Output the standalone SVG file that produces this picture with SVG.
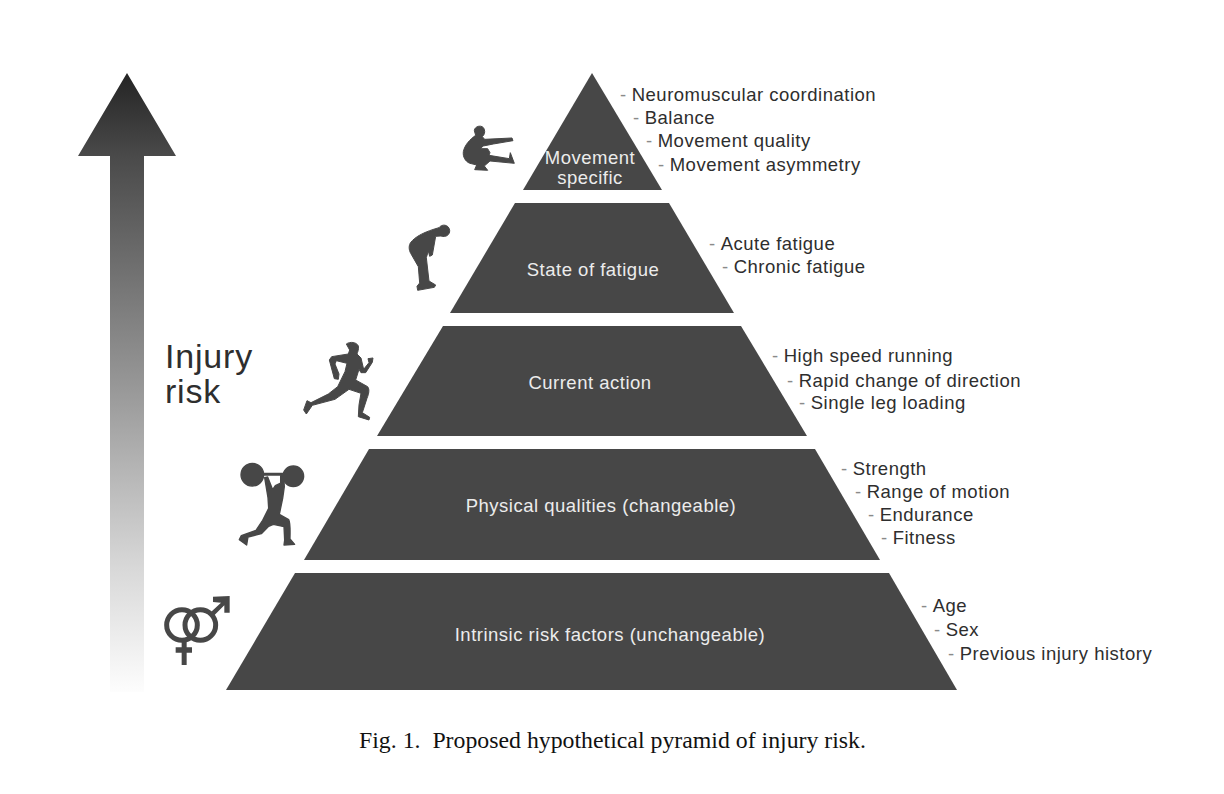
<svg xmlns="http://www.w3.org/2000/svg" width="1224" height="794" viewBox="0 0 1224 794">
<style>
text{font-family:"Liberation Sans",Arial,sans-serif}
.tier{fill:#474747}
.in{fill:#ececec;font-size:18.5px;letter-spacing:.5px;text-anchor:middle}
.side{fill:#2e2e2e;font-size:18.5px;letter-spacing:.5px;white-space:pre}
.d{fill:#8a8a8a;letter-spacing:.2px}
.fig{fill:#474747;stroke:#474747;stroke-width:3;stroke-linejoin:round;filter:url(#soft)}
.sym{filter:url(#soft)}
.inj{font-size:34px;letter-spacing:.8px;fill:#2e2e2e}
.cap{font-family:"Liberation Serif",serif;font-size:23.8px;fill:#111;white-space:pre}
</style>
<defs>
<linearGradient id="up" gradientUnits="userSpaceOnUse" x1="0" y1="73" x2="0" y2="692">
<stop offset="0" stop-color="#242424"/><stop offset=".135" stop-color="#4a4a4a"/><stop offset=".5" stop-color="#969696"/><stop offset=".8" stop-color="#d8d8d8"/><stop offset="1" stop-color="#fdfdfd"/>
</linearGradient>
<filter id="soft" x="-10%" y="-10%" width="120%" height="120%"><feGaussianBlur stdDeviation="1.2"/></filter>
</defs>
<rect width="1224" height="794" fill="#fff"/>
<g id="risk-arrow">
<path d="M127 73L176 156H144V692H110V156H78Z" fill="url(#up)"/>
<text class="inj" x="165" y="368">Injury</text>
<text class="inj" x="165" y="403">risk</text>
</g>
<g id="tier-movement">
<path class="tier" d="M592 73L662 190H523Z"/>
<text class="in" x="590" y="164">Movement</text><text class="in" x="590" y="184">specific</text>
<text class="side" x="620" y="101"><tspan class="d">- </tspan>Neuromuscular coordination</text>
<text class="side" x="633" y="124"><tspan class="d">- </tspan>Balance</text>
<text class="side" x="646" y="147"><tspan class="d">- </tspan>Movement quality</text>
<text class="side" x="658" y="171"><tspan class="d">- </tspan>Movement asymmetry</text>
<path class="fig" transform="translate(440 110) scale(.3333)" d="M103 62C103 48 128 42 133 58C136 68 132 76 127 80L134 88L216 84L219 92L160 102L130 108L120 116L143 116L150 128L147 136L208 146L211 128L223 160L150 153L133 168L143 181L104 179L110 165L90 160C76 155 68 140 70 125C74 105 90 88 107 76Z"/>
</g>
<g id="tier-fatigue">
<path class="tier" d="M515 203H669L734 313H450Z"/>
<text class="in" x="593" y="276">State of fatigue</text>
<text class="side" x="709" y="250"><tspan class="d">- </tspan>Acute fatigue</text>
<text class="side" x="722" y="273"><tspan class="d">- </tspan>Chronic fatigue</text>
<path class="fig" transform="translate(395 215) scale(.3333)" d="M132 38C140 26 162 28 164 46C165 60 152 68 138 63L122 64L112 120L104 124L100 108L94 128L102 198L122 210L118 217L68 226L66 214L74 204L70 155L50 120C42 108 40 95 46 84C60 64 90 50 132 38Z"/>
</g>
<g id="tier-action">
<path class="tier" d="M443 326H741L807 436H377Z"/>
<text class="in" x="590" y="389">Current action</text>
<text class="side" x="772" y="362"><tspan class="d">- </tspan>High speed running</text>
<text class="side" x="787" y="387"><tspan class="d">- </tspan>Rapid change of direction</text>
<text class="side" x="799" y="409"><tspan class="d">- </tspan>Single leg loading</text>
<path class="fig" transform="translate(295 330) scale(.3333)" d="M154 42C165 34 185 36 190 48C192 58 188 66 186 72L198 84L206 118L222 98L219 86L234 84L232 97L212 128L198 128L192 118L182 150L218 170C224 178 222 190 216 205L202 248L224 262L222 270L190 260L192 225L198 190L162 178L120 208L52 226L34 252L26 240L36 212L48 218L100 192L128 170L150 125L156 100L124 92L120 102L132 132L130 148L118 146L103 90L110 80L160 72L164 60Z"/>
</g>
<g id="tier-physical">
<path class="tier" d="M369 449H815L880 560H304Z"/>
<text class="in" x="601" y="512">Physical qualities (changeable)</text>
<text class="side" x="841" y="475"><tspan class="d">- </tspan>Strength</text>
<text class="side" x="855" y="498"><tspan class="d">- </tspan>Range of motion</text>
<text class="side" x="868" y="521"><tspan class="d">- </tspan>Endurance</text>
<text class="side" x="881" y="544"><tspan class="d">- </tspan>Fitness</text>
<g class="sym" transform="translate(230 455) scale(.3333)" fill="#474747" stroke="#474747" stroke-width="4" stroke-linejoin="round">
<circle cx="67" cy="59" r="34"/><circle cx="190" cy="64" r="31"/>
<path d="M95 55H165V60H95Z"/>
<path d="M104 68L113 66L128 104L136 92L152 84L152 62L161 62L163 95L158 130L148 178L176 194C182 205 180 235 180 252L194 268L162 270L164 255L162 215L130 208L116 214L94 236L54 246L50 270L28 254L34 242L78 226L98 196L116 160L114 128Z"/>
</g>
</g>
<g id="tier-intrinsic">
<path class="tier" d="M295 573H889L957 690H226Z"/>
<text class="in" x="610" y="641">Intrinsic risk factors (unchangeable)</text>
<text class="side" x="921" y="612"><tspan class="d">- </tspan>Age</text>
<text class="side" x="934" y="636"><tspan class="d">- </tspan>Sex</text>
<text class="side" x="948" y="660"><tspan class="d">- </tspan>Previous injury history</text>
<g class="sym" transform="translate(155 590) scale(.3333)" fill="#474747">
<circle cx="81" cy="105" r="46" fill="none" stroke="#474747" stroke-width="15"/>
<circle cx="136" cy="105" r="46" fill="none" stroke="#474747" stroke-width="15"/>
<path d="M80 150H95V172H111V188H95V225H80V188H62V172H80Z"/>
<path d="M168 66L198 38L174 36V20L224 18V68H208V46L178 76Z"/>
</g>
</g>
<text id="caption" class="cap" x="359" y="748">Fig. 1.  Proposed hypothetical pyramid of injury risk.</text>
</svg>
